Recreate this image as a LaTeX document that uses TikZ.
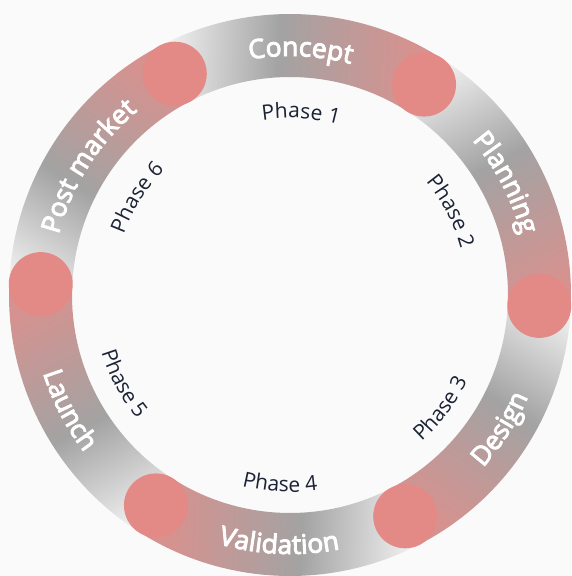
\documentclass[tikz,border=0pt]{standalone}
\usepackage{fontspec}
\setmainfont{Open Sans}
\newfontfamily\lblfam{Open Sans}[FakeBold=3.5]
\usetikzlibrary{decorations.text}
\definecolor{bgc}{HTML}{FAFAFA}
\definecolor{segA}{HTML}{F6F6F6}
\definecolor{segB}{HTML}{A3A3A3}
\definecolor{segC}{HTML}{D6928F}
\definecolor{capc}{HTML}{E38A87}
\definecolor{phasec}{HTML}{1B2234}
\pgfdeclarehorizontalshading{segshade}{100bp}{color(0bp)=(segA); color(25bp)=(segA); color(46bp)=(segB); color(70bp)=(segC); color(100bp)=(segC)}
\newcommand\lblfont{\lblfam\fontsize{26.5}{30}\selectfont\color{white}}
\newcommand\phfont{\fontsize{21}{24}\selectfont\color{phasec}}
\tikzset{
  capdot/.style={circle, fill=capc, minimum size=64pt, inner sep=0pt},
  seglbl/.style={decorate, decoration={text along path, text={|\lblfont|#1}, text align=center}},
  phlbl/.style={decorate, decoration={text along path, text={|\phfont|#1}, text align=center}}
}
\begin{document}
\begin{tikzpicture}
\fill[bgc] (-290pt,-281pt) rectangle (281pt,295pt);
\useasboundingbox (-290pt,-281pt) rectangle (281pt,295pt);
% ring segments (each drawn in a frame where its gradient runs left to right)
\foreach \m in {87.5,27.5,-32.5,-92.5,-152.5,147.5}{
  \begin{scope}[transform canvas={rotate=\m-90}]
    \shade[shading=segshade] (120:281pt) arc[start angle=120,end angle=60,radius=281pt]
      -- (60:218pt) arc[start angle=60,end angle=120,radius=218pt] -- cycle;
  \end{scope}
}
% rounded pink ends
\node[capdot] (c1) at (57.5:249.5pt) {};
\node[capdot] (c2) at (-2.5:249.5pt) {};
\node[capdot] (c3) at (-62.5:249.5pt) {};
\node[capdot] (c4) at (-122.5:249.5pt) {};
\node[capdot] (c5) at (177.5:249.5pt) {};
\node[capdot] (c6) at (117.5:249.5pt) {};
% segment labels
\path[seglbl=Concept] (127.5:239pt) arc[start angle=127.5,end angle=47.5,radius=239pt];
\path[seglbl=Planning] (67.5:239pt) arc[start angle=67.5,end angle=-12.5,radius=239pt];
\path[seglbl=Post market] (187.5:239pt) arc[start angle=187.5,end angle=107.5,radius=239pt];
\path[seglbl=Design] (-72.5:259pt) arc[start angle=-72.5,end angle=7.5,radius=259pt];
\path[seglbl=Validation] (-132.5:259pt) arc[start angle=-132.5,end angle=-52.5,radius=259pt];
\path[seglbl=Launch] (-192.5:259pt) arc[start angle=-192.5,end angle=-112.5,radius=259pt];
% phase labels
\path[phlbl=Phase 1] (126.5:177pt) arc[start angle=126.5,end angle=46.5,radius=177pt];
\path[phlbl=Phase 2] (67.5:177pt) arc[start angle=67.5,end angle=-12.5,radius=177pt];
\path[phlbl=Phase 6] (187.5:177pt) arc[start angle=187.5,end angle=107.5,radius=177pt];
\path[phlbl=Phase 3] (-77:197pt) arc[start angle=-77,end angle=3,radius=197pt];
\path[phlbl=Phase 4] (-133:197pt) arc[start angle=-133,end angle=-53,radius=197pt];
\path[phlbl=Phase 5] (-192:197pt) arc[start angle=-192,end angle=-112,radius=197pt];
\end{tikzpicture}
\end{document}
